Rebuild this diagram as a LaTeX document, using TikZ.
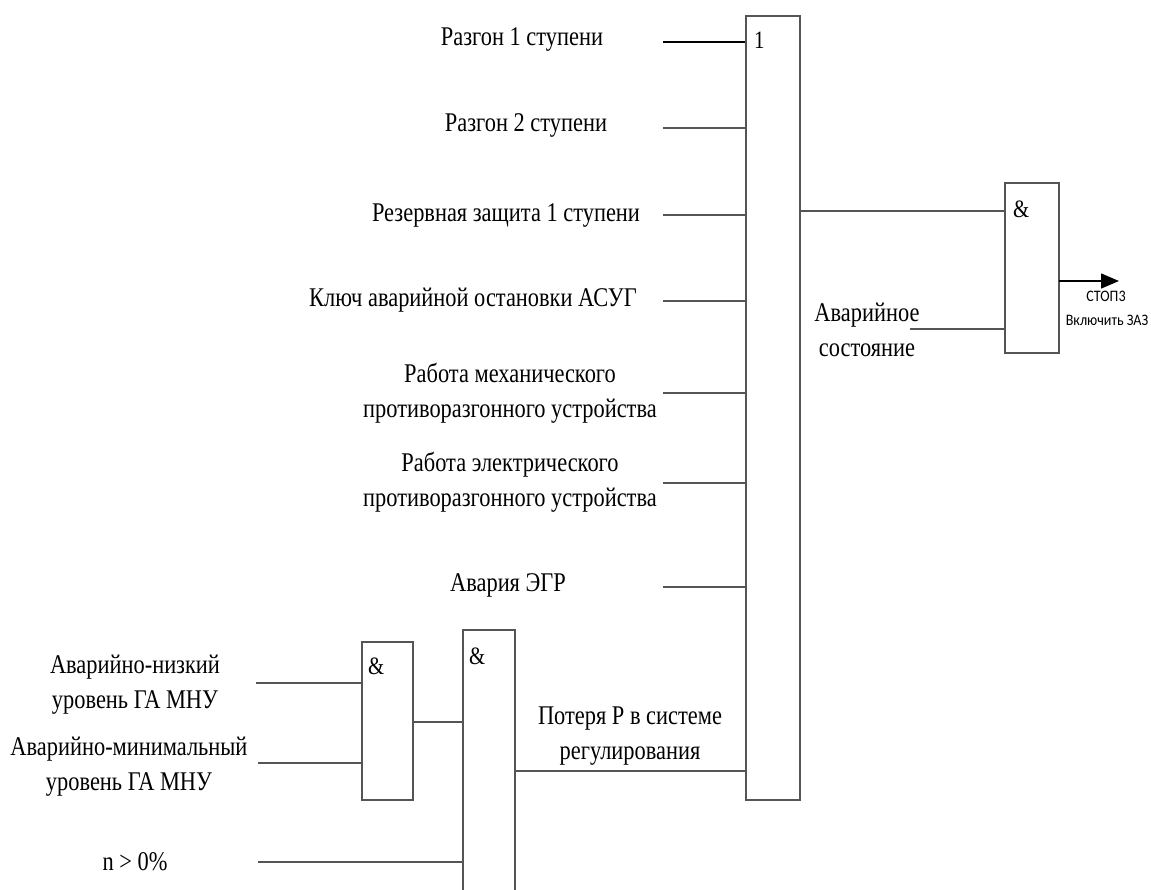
\documentclass[tikz,border=0pt]{standalone}
\usepackage{fontspec}
\setmainfont{Liberation Serif}[FakeStretch=0.83]
\newfontfamily\smallsans{Carlito}[FakeStretch=0.88]
\usetikzlibrary{arrows.meta}
\definecolor{wire}{RGB}{85,85,85}
\begin{document}
\begin{tikzpicture}[x=1pt,y=-1pt,
  gate/.style={draw=wire,line width=1.4pt,fill=white,inner sep=0pt},
  wireline/.style={draw=wire,line width=1.4pt},
  lbl/.style={font=\fontsize{27}{35}\selectfont,align=center,inner sep=0pt},
  glbl/.style={font=\fontsize{25}{28}\selectfont,inner sep=0pt,anchor=north west},
  slbl/.style={font=\smallsans\fontsize{16}{18}\selectfont,inner sep=0pt}]
\clip (0,0) rectangle (1151,890);
\fill[white] (0,0) rectangle (1151,890);

% gates
\node[gate,minimum width=54pt,minimum height=784pt] (orG) at (773,408) {};
\node[gate,minimum width=54pt,minimum height=170pt] (andC) at (1032,268) {};
\node[gate,minimum width=51pt,minimum height=158pt] (andA) at (387.5,721) {};
\node[gate,minimum width=52pt,minimum height=290pt] (andB) at (489,775) {};

\node[glbl] (orT) at (754,32) {1};
\node[glbl] (andCT) at (1013,201) {\&};
\node[glbl] (andAT) at (368,658) {\&};
\node[glbl] (andBT) at (469,648) {\&};

% input labels to OR
\node[lbl] (l1) at (522,40) {Разгон 1 ступени};
\node[lbl] (l2) at (526,125) {Разгон 2 ступени};
\node[lbl] (l3) at (506,216) {Резервная защита 1 ступени};
\node[lbl] (l4) at (473,300) {Ключ аварийной остановки АСУГ};
\node[lbl] (l5) at (510,393) {Работа механического\\противоразгонного устройства};
\node[lbl] (l6) at (510,482) {Работа электрического\\противоразгонного устройства};
\node[lbl] (l7) at (508,585) {Авария ЭГР};
\node[lbl] (l8) at (630,736) {Потеря P в системе\\регулирования};
\node[lbl] (l9) at (867,330) {Аварийное\\состояние};
\node[lbl] (l10) at (135,685) {Аварийно-низкий\\уровень ГА МНУ};
\node[lbl] (l11) at (129,767) {Аварийно-минимальный\\уровень ГА МНУ};
\node[lbl] (l12) at (135,862) {n > 0\%};

% free line starts
\coordinate (s1) at (663,42);
\coordinate (s2) at (663,128);
\coordinate (s3) at (663,215);
\coordinate (s4) at (663,301);
\coordinate (s5) at (663,393);
\coordinate (s6) at (663,483);
\coordinate (s7) at (663,587);
\coordinate (s9) at (910,329);
\coordinate (sA) at (256,683);
\coordinate (sB) at (258,763);
\coordinate (sN) at (258,862);

\draw[wireline,draw=black] (s1) -- (s1 -| orG.west);
\foreach \i in {2,...,7} {\draw[wireline] (s\i) -- (s\i -| orG.west);}
\draw[wireline] (s9) -- (s9 -| andC.west);
\draw[wireline] (sA) -- (sA -| andA.west);
\draw[wireline] (sB) -- (sB -| andA.west);
\draw[wireline] (sN) -- (sN -| andB.west);

\coordinate (oA) at (413,722);
\draw[wireline] (oA) -- (oA -| andB.west);
\coordinate (oB) at (515,771);
\draw[wireline] (oB) -- (oB -| orG.west);
\coordinate (oO) at (800,211);
\draw[wireline] (oO) -- (oO -| andC.west);

% output arrow
\coordinate (outC) at (1059,281);
\coordinate (outE) at (1119,281);
\draw[line width=1.4pt,-{Triangle[length=18pt,width=15pt]}] (outC) -- (outE);
\node[slbl] (st) at (1106,296) {СТОП3};
\node[slbl] (vz) at (1107,320) {Включить ЗАЗ};
\end{tikzpicture}
\end{document}
